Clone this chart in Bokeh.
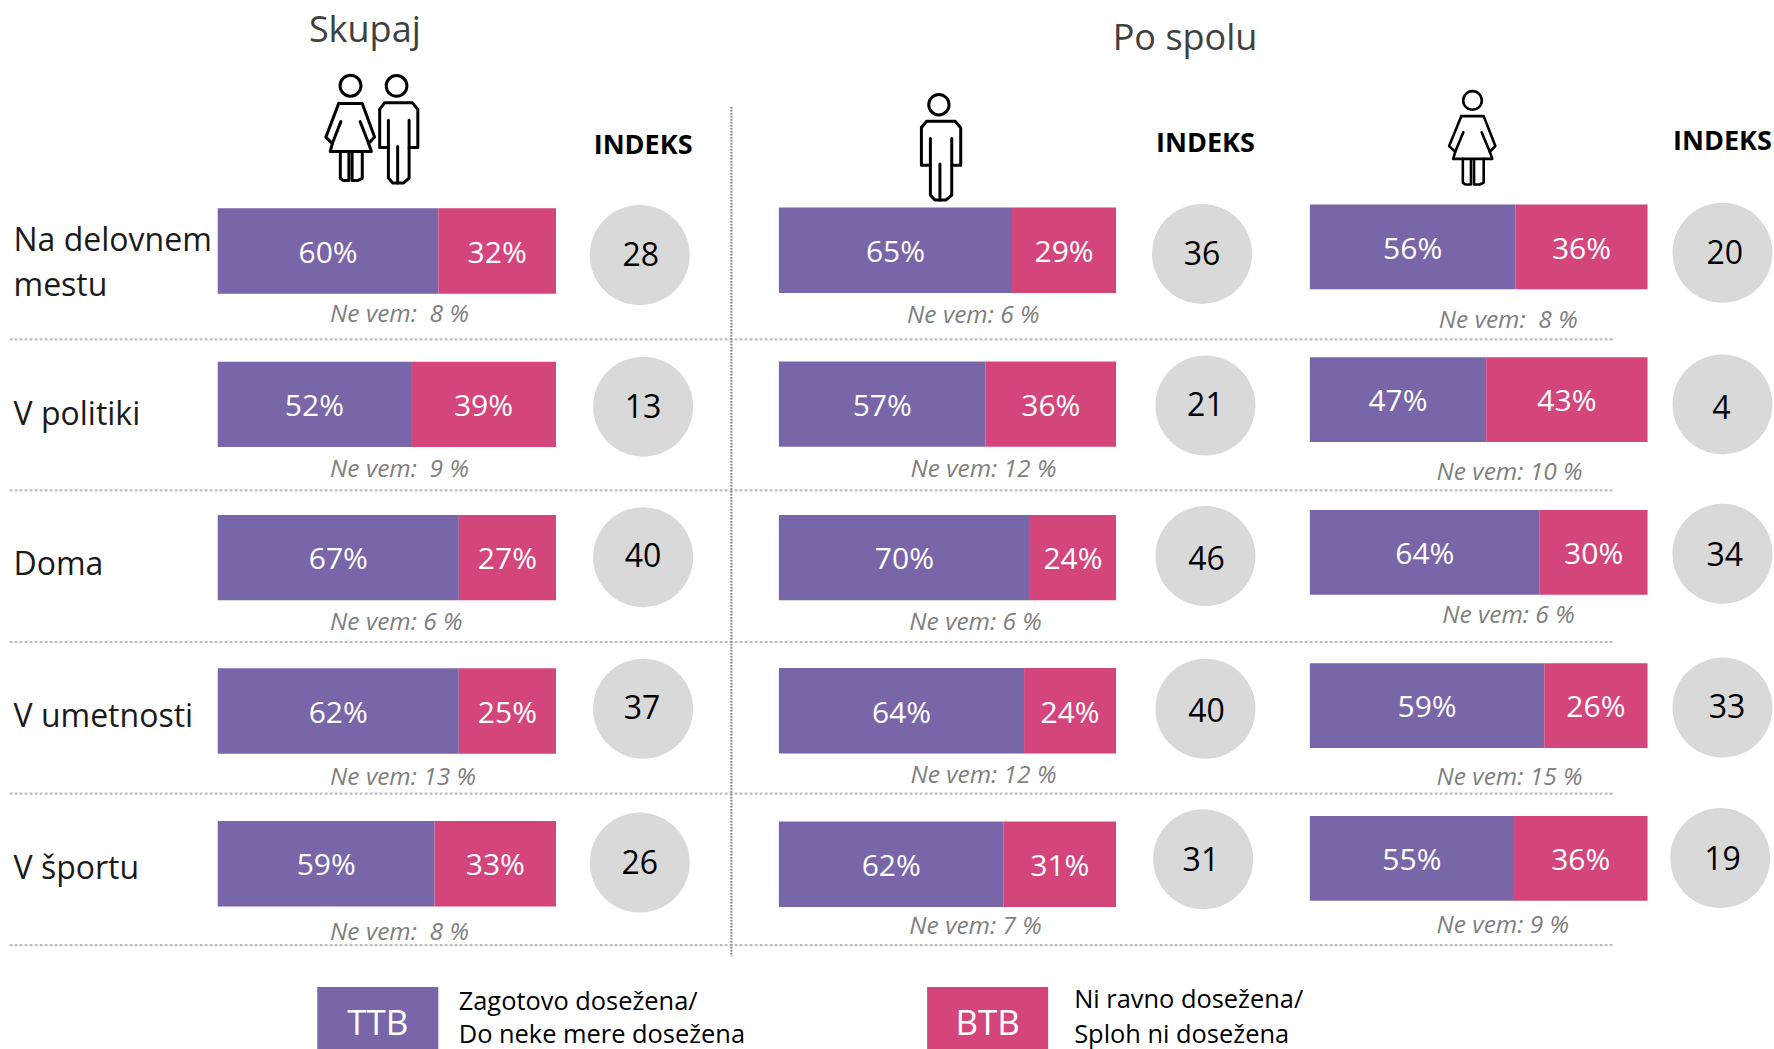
from bokeh.plotting import figure
from bokeh.embed import file_html
from bokeh.resources import INLINE
from bokeh.models import Range1d, ColumnDataSource
from bokeh.core.properties import value

NB = "\u00a0"
categories = [["Na delovnem", "mestu"], ["V politiki"], ["Doma"], ["V umetnosti"], ["V športu"]]
ttb_all = [60, 52, 67, 62, 59]
btb_all = [32, 39, 27, 25, 33]
idx_all = [28, 13, 40, 37, 26]
dk_all = ["Ne vem: " + NB + "8 %", "Ne vem: " + NB + "9 %", "Ne vem: 6 %", "Ne vem: 13 %", "Ne vem: " + NB + "8 %"]
ttb_men = [65, 57, 70, 64, 62]
btb_men = [29, 36, 24, 24, 31]
idx_men = [36, 21, 46, 40, 31]
dk_men = ["Ne vem: 6 %", "Ne vem: 12 %", "Ne vem: 6 %", "Ne vem: 12 %", "Ne vem: 7 %"]
ttb_wom = [56, 47, 64, 59, 55]
btb_wom = [36, 43, 30, 26, 36]
idx_wom = [20, 4, 34, 33, 19]
dk_wom = ["Ne vem: " + NB + "8 %", "Ne vem: 10 %", "Ne vem: 6 %", "Ne vem: 15 %", "Ne vem: 9 %"]

W, H = 1774, 1049
PURPLE, PINK, GREY = "#7866A9", "#D4467B", "#D9D9D9"
FONT = value("Open Sans")
S = 1774 / 1568

p = figure(width=W, height=H, output_backend="svg", toolbar_location=None,
           x_range=Range1d(0, W), y_range=Range1d(H, 0), min_border=0,
           outline_line_color=None, background_fill_color="white")
p.styles = {"position": "absolute", "left": "0", "top": "0"}
p.xaxis.visible = False
p.yaxis.visible = False
p.grid.visible = False


def txt(x, y, s, size, color="black", align="center", style="normal"):
    p.text([x * S], [y * S], text=[s], text_font=FONT, text_font_size=f"{size}px",
           text_color=color, text_align=align, text_baseline="middle", text_font_style=style)


panels = [
    dict(name="all", x0=192, x1=491, ttb=ttb_all, btb=btb_all, idx=idx_all, dk=dk_all,
         tops=[183.7, 319.2, 454.7, 590.2, 725.2], bh=75.5,
         cc=[(565, 225), (568, 359), (568, 492), (568, 626), (565, 762)],
         tc=[(566, 224.5), (568, 358.5), (568, 490.5), (567, 624.5), (565, 761.5)],
         dx=[292] * 5, dy=[277, 414, 549, 686, 823]),
    dict(name="men", x0=688, x1=986, ttb=ttb_men, btb=btb_men, idx=idx_men, dk=dk_men,
         tops=[183, 319, 454.7, 590, 725.7], bh=75.5,
         cc=[(1062, 224), (1065, 358), (1065, 491), (1065, 626), (1063, 759)],
         tc=[(1062, 223.5), (1065, 356.5), (1066, 492.5), (1066, 627.5), (1061, 758.5)],
         dx=[802, 805, 804, 805, 804], dy=[278, 414, 549, 684, 818]),
    dict(name="wom", x0=1157.3, x1=1455.8, ttb=ttb_wom, btb=btb_wom, idx=idx_wom, dk=dk_wom,
         tops=[180.3, 315.3, 450.3, 585.7, 720.7], bh=75,
         cc=[(1522, 223), (1522, 357), (1522, 489), (1522, 625), (1520, 758)],
         tc=[(1524, 222.5), (1521, 359.5), (1524, 489.5), (1526, 623.5), (1522, 757.5)],
         dx=[1272, 1270, 1275, 1270, 1270], dy=[282, 416, 543, 686, 817]),
]

# dotted separators
for y in [299.5, 433, 567, 701, 835]:
    p.line([8 * S, 1425 * S], [y * S, y * S], line_color="#BFBFBF", line_width=2.2, line_dash="3 2")
p.line([646 * S, 646 * S], [94 * S, 845 * S], line_color="#8C8C8C", line_width=2, line_dash="2 1")

for pn in panels:
    # each panel has its own 0-100 % scale, mapped onto the width of its bars
    a, b = pn["x0"] * S, pn["x1"] * S
    k = 100 / (b - a)
    rng = pn["name"]
    p.extra_x_ranges[rng] = Range1d(-a * k, (W - a) * k)
    shares = [100 * t / (t + u) for t, u in zip(pn["ttb"], pn["btb"])]
    tops = [t * S for t in pn["tops"]]
    bots = [(t + pn["bh"]) * S for t in pn["tops"]]
    src = ColumnDataSource(dict(share=shares, zero=[0] * 5, full=[100] * 5, top=tops, bottom=bots))
    p.quad(left="zero", right="share", top="top", bottom="bottom", source=src, x_range_name=rng,
           fill_color=PURPLE, line_color=None)
    p.quad(left="share", right="full", top="top", bottom="bottom", source=src, x_range_name=rng,
           fill_color=PINK, line_color=None)
    mid = [(t + u) / 2 + 0.3 for t, u in zip(tops, bots)]
    p.text([s / 2 for s in shares], mid, text=[f"{v}%" for v in pn["ttb"]], x_range_name=rng,
           text_font=FONT, text_font_size="30px", text_color="white", text_align="center",
           text_baseline="middle")
    p.text([(s + 100) / 2 for s in shares], mid, text=[f"{v}%" for v in pn["btb"]], x_range_name=rng,
           text_font=FONT, text_font_size="30px", text_color="white", text_align="center",
           text_baseline="middle")
    p.ellipse([c[0] * S for c in pn["cc"]], [c[1] * S for c in pn["cc"]], width=100, height=100,
              fill_color=GREY, line_color=None)
    for (x, y), v in zip(pn["tc"], pn["idx"]):
        txt(x, y, str(v), 32)
    for x, y, s in zip(pn["dx"], pn["dy"], pn["dk"]):
        txt(x - 0.7, y - 1, s, 24.5, color="#7F7F7F", align="left", style="italic")

# row labels
row_y = [[210, 250], [364], [497], [631], [765]]
for lines, ys in zip(categories, row_y):
    for s, y in zip(lines, ys):
        txt(11.5, y, s, 32, color="#1a1a1a", align="left")

txt(322, 25, "Skupaj", 36, color="#404040")
txt(1047, 32, "Po spolu", 36, color="#404040")
txt(568, 126, "INDEKS", 27, style="bold")
txt(1065, 125, "INDEKS", 27, style="bold")
txt(1522, 123, "INDEKS", 27, style="bold")

# legend
for x0, x1, y0, col, s in [(280, 387, 872, PURPLE, "TTB"), (819, 926, 872, PINK, "BTB")]:
    p.quad(left=[x0 * S], right=[x1 * S], top=[y0 * S], bottom=[H], fill_color=col, line_color=None)
    txt((x0 + x1) / 2, 902, s, 35, color="white")
txt(405, 883, "Zagotovo dosežena/", 25.4, align="left")
txt(405, 913, "Do neke mere dosežena", 25.4, align="left")
txt(949, 882, "Ni ravno dosežena/", 25.4, align="left")
txt(949, 912.5, "Sploh ni dosežena", 25.4, align="left")

# pictograms: strokes measured as (dx, dy) per unit of icon height, from centre-x and top
MAN_HEAD = (-.015, .105, .095)
MAN_STROKES = [
    [(-.17, .32), (-.125, .26), (.13, .26), (.18, .32), (.18, .67), (.10, .67)],
    [(-.17, .32), (-.17, .67), (-.09, .67)],
    [(-.09, .42), (-.09, .95), (-.05, .995), (-.005, .995), (-.005, .66)],
    [(-.005, .995), (.05, .995), (.10, .95), (.10, .42)],
]
WOMAN_HEAD = (0, .105, .098)
WOMAN_STROKES = [
    [(-.11, .27), (.11, .27), (.225, .585), (.17, .645), (.195, .72), (-.19, .72),
     (-.17, .645), (-.23, .585), (-.11, .27)],
    [(-.09, .44), (-.17, .645)],
    [(.09, .44), (.17, .645)],
    [(-.095, .72), (-.095, .97), (-.07, .99), (-.015, .99), (-.015, .73)],
    [(.015, .73), (.015, .99), (.07, .99), (.11, .97), (.11, .72)],
]


def person(head, strokes, cx, top, h, wscale=1.0, lw=3.0):
    xs = [[cx + a * h * wscale for a, _ in st] for st in strokes]
    ys = [[top + b * h for _, b in st] for st in strokes]
    p.multi_line(xs, ys, line_color="black", line_width=lw, line_join="round", line_cap="round")
    p.circle([cx + head[0] * h], [top + head[1] * h], radius=head[2] * h, fill_color=None,
             line_color="black", line_width=lw)


person(WOMAN_HEAD, WOMAN_STROKES, 350, 74, 107)
person(MAN_HEAD, MAN_STROKES, 397.7, 74, 109)
person(MAN_HEAD, MAN_STROKES, 940, 93, 107, wscale=1.05)
person(WOMAN_HEAD, WOMAN_STROKES, 1472, 90, 95, wscale=1.07, lw=2.6)

open("out.html", "w").write(file_html(p, INLINE))
